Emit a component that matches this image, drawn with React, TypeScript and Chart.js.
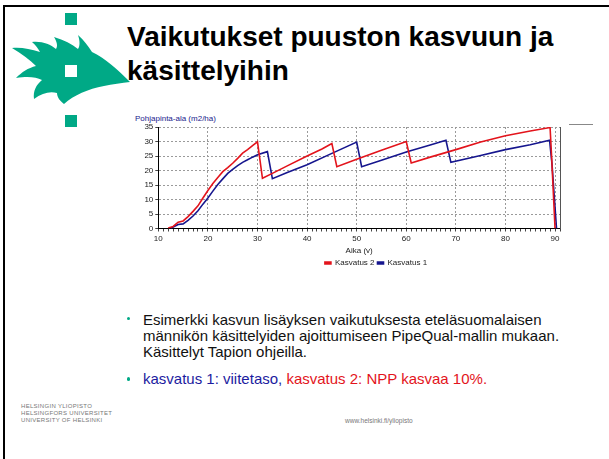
import React, { useEffect, useRef } from "react";
import { Chart, registerables } from "chart.js";

Chart.register(...registerables);

// ---- data ----
const kasvatus2Ages = [12, 13, 14, 15, 16, 17, 18, 19, 20, 21, 22, 23, 24, 25, 26, 27, 28, 29, 30, 31, 33, 36, 40, 43, 45, 46, 50, 55, 60, 61, 65, 70, 75, 80, 85, 89, 89.3, 90];
const kasvatus2Values = [0.2, 0.7, 2.2, 2.6, 4.1, 5.9, 7.8, 10.5, 13.1, 15.5, 17.6, 19.6, 21, 22.5, 24.2, 26, 27.2, 28.6, 29.9, 17.3, 19, 21.6, 25, 27.4, 29.3, 21.3, 23.9, 27, 30, 22.6, 24.7, 27.2, 29.8, 32, 33.6, 34.8, 25, 0];

const kasvatus1Ages = [12.5, 13, 14, 15, 16, 17, 18, 19, 20, 21, 22, 23, 24, 25, 26, 27, 28, 29, 30, 32, 33, 36, 40, 45, 50, 51, 55, 60, 65, 68, 69, 75, 80, 85, 88.9, 89.4, 90.3];
const kasvatus1Values = [0, 0.5, 1.4, 1.6, 2.8, 4.3, 6.1, 8.4, 10.5, 12.9, 15.2, 17.1, 19, 20.4, 21.7, 22.8, 23.7, 24.6, 25.4, 26.5, 17.2, 19.3, 22, 25.9, 29.8, 21.3, 23.5, 26.4, 28.9, 30.4, 22.8, 25.2, 27.2, 28.9, 30.4, 22, 0];

const xMajorTicks = [10, 20, 30, 40, 50, 60, 70, 80, 90];
const yTickStep = 5;
const xMin = 10;
const xMax = 91;
const yMin = 0;
const yMax = 35;

const seriesNames = ["Kasvatus 2", "Kasvatus 1"];
const yAxisTitle = "Pohjapinta-ala (m2/ha)";
const xAxisTitle = "Aika (v)";

const RED = "#e3141c";
const BLUE = "#16168e";
const TEAL = "#00a986";
const FONT = "'Liberation Sans', Arial, sans-serif";

function ChartBox() {
  const ref = useRef<HTMLCanvasElement | null>(null);
  useEffect(() => {
    if (!ref.current) return;
    const toPts = (xs: number[], ys: number[]) => xs.map((x, i) => ({ x, y: ys[i] }));
    const chart = new Chart(ref.current, {
      type: "line",
      data: {
        datasets: [
          {
            label: seriesNames[0],
            data: toPts(kasvatus2Ages, kasvatus2Values),
            borderColor: RED,
            backgroundColor: RED,
            borderWidth: 1.6,
            pointRadius: 0,
            tension: 0,
          },
          {
            label: seriesNames[1],
            data: toPts(kasvatus1Ages, kasvatus1Values),
            borderColor: BLUE,
            backgroundColor: BLUE,
            borderWidth: 1.6,
            pointRadius: 0,
            tension: 0,
          },
        ],
      },
      options: {
        animation: false,
        responsive: false,
        events: [],
        layout: { padding: { left: 10, right: 0, top: 9, bottom: 5 } },
        plugins: {
          tooltip: { enabled: false },
          title: { display: false },
          legend: {
            position: "bottom",
            labels: {
              boxWidth: 6,
              boxHeight: 2,
              padding: 3,
              color: "#222",
              font: { size: 8, family: FONT },
            },
          },
        },
        scales: {
          x: {
            type: "linear",
            min: xMin,
            max: xMax,
            ticks: {
              stepSize: 1,
              autoSkip: false,
              maxRotation: 0,
              padding: 2,
              color: "#222",
              font: { size: 8, family: FONT },
              callback: (v: any) => (xMajorTicks.includes(Number(v)) ? String(v) : ""),
            },
            grid: {
              color: (ctx: any) =>
                ctx.tick && xMajorTicks.includes(ctx.tick.value) && ctx.tick.value !== xMin ? "#9a9a9a" : "transparent",
              tickColor: "#444",
              tickLength: 3,
              lineWidth: 1,
            },
            border: { color: "#000", width: 1, dash: [2, 2] },
            title: {
              display: true,
              text: xAxisTitle,
              color: "#222",
              font: { size: 8, family: FONT },
              padding: { top: 1, bottom: 0 },
            },
            afterFit: (s: any) => {
              s.height = 27.5;
            },
          },
          y: {
            type: "linear",
            min: yMin,
            max: yMax,
            ticks: {
              stepSize: yTickStep,
              padding: 2,
              color: "#222",
              font: { size: 8, family: FONT },
            },
            grid: {
              color: (ctx: any) => (ctx.tick && ctx.tick.value > yMin ? "#9a9a9a" : "transparent"),
              tickColor: "#444",
              tickLength: 3,
            },
            border: { color: "#000", width: 1, dash: [2, 2] },
            afterFit: (s: any) => {
              s.width = 28.3;
            },
          },
          y2: {
            type: "linear",
            position: "right",
            display: true,
            min: yMin,
            max: yMax,
            ticks: { display: false },
            grid: { display: false, drawTicks: false },
            border: { display: true, color: "#555", width: 1 },
            afterFit: (s: any) => {
              s.width = 62;
            },
          },
        },
      },
    });
    return () => chart.destroy();
  }, []);
  return <canvas ref={ref} width={502} height={164} style={{ display: "block", width: 502, height: 164 }} />;
}

function Logo() {
  return (
    <svg width={140} height={135} viewBox="0 0 140 135" style={{ position: "absolute", left: 0, top: 0 }}>
      <rect x={65} y={13} width={12} height={12} fill={TEAL} />
      <path
        fill={TEAL}
        d="M130 82 C118 70 105 58 92 52 C88 46 84 40 78 35 C80 41 80 46 78 49 C72 44 64 40 54 37 C57 42 58 46 56 49 C50 44 42 41 32 42 C36 45 38 49 40 52 C30 49 21 47 12 48 C22 54 30 60 36 66 C28 68 22 72 16 78 C28 76 36 77 42 80 C36 85 33 91 34 99 C42 93 50 91 57 93 C57 97 60 101 64 104 C74 95 88 89 104 86 C112 84 122 83 130 82 Z"
      />
      <rect x={65} y={65} width={12} height={12} fill="#fff" />
      <rect x={65} y={115} width={12} height={12} fill={TEAL} />
    </svg>
  );
}

export default function App() {
  const abs = (s: React.CSSProperties): React.CSSProperties => ({ position: "absolute", ...s });
  return (
    <div
      style={{
        position: "absolute",
        left: 0,
        top: 0,
        width: 609,
        height: 459,
        overflow: "hidden",
        background: "#fff",
        fontFamily: FONT,
      }}
    >
      <div style={abs({ left: 3, top: 5, width: 606, height: 2, background: "#000" })} />
      <div style={abs({ left: 3, top: 5, width: 2, height: 454, background: "#000" })} />
      <Logo />
      <div
        style={abs({
          left: 127,
          top: 20,
          width: 480,
          fontSize: 28,
          fontWeight: "bold",
          lineHeight: "34px",
          color: "#000",
          whiteSpace: "nowrap",
        })}
      >
        Vaikutukset puuston kasvuun ja
        <br />
        käsittelyihin
      </div>
      <div style={abs({ left: 569, top: 124, width: 24, height: 1, background: "#888" })} />
      <div style={abs({ left: 135, top: 114, fontSize: 8, lineHeight: "10px", color: "#1a1a8c", whiteSpace: "nowrap" })}>
        {yAxisTitle}
      </div>
      <div style={abs({ left: 120, top: 118, width: 502, height: 164 })}>
        <ChartBox />
      </div>
      <div style={abs({ left: 126.8, top: 316.8, width: 3.5, height: 3.5, borderRadius: 2, background: TEAL })} />
      <div
        style={abs({
          left: 143,
          top: 312,
          width: 460,
          fontSize: 15,
          lineHeight: "15.8px",
          color: "#111",
          whiteSpace: "nowrap",
        })}
      >
        Esimerkki kasvun lisäyksen vaikutuksesta eteläsuomalaisen
        <br />
        männikön käsittelyiden ajoittumiseen PipeQual-mallin mukaan.
        <br />
        Käsittelyt Tapion ohjeilla.
      </div>
      <div style={abs({ left: 126.8, top: 377.3, width: 3.5, height: 3.5, borderRadius: 2, background: TEAL })} />
      <div style={abs({ left: 143, top: 370.5, fontSize: 15, lineHeight: "15.8px", whiteSpace: "nowrap" })}>
        <span style={{ color: "#1c1ca0" }}>kasvatus 1: viitetaso,</span>
        <span style={{ color: "#e3141c" }}> kasvatus 2: NPP kasvaa 10%.</span>
      </div>
      <div style={abs({ left: 21, top: 403.4, fontSize: 6, lineHeight: "7px", color: "#777", letterSpacing: 0.3, whiteSpace: "nowrap" })}>
        HELSINGIN YLIOPISTO
        <br />
        HELSINGFORS UNIVERSITET
        <br />
        UNIVERSITY OF HELSINKI
      </div>
      <div style={abs({ left: 345, top: 417, fontSize: 6.5, lineHeight: "8px", color: "#777", whiteSpace: "nowrap" })}>
        www.helsinki.fi/yliopisto
      </div>
    </div>
  );
}
